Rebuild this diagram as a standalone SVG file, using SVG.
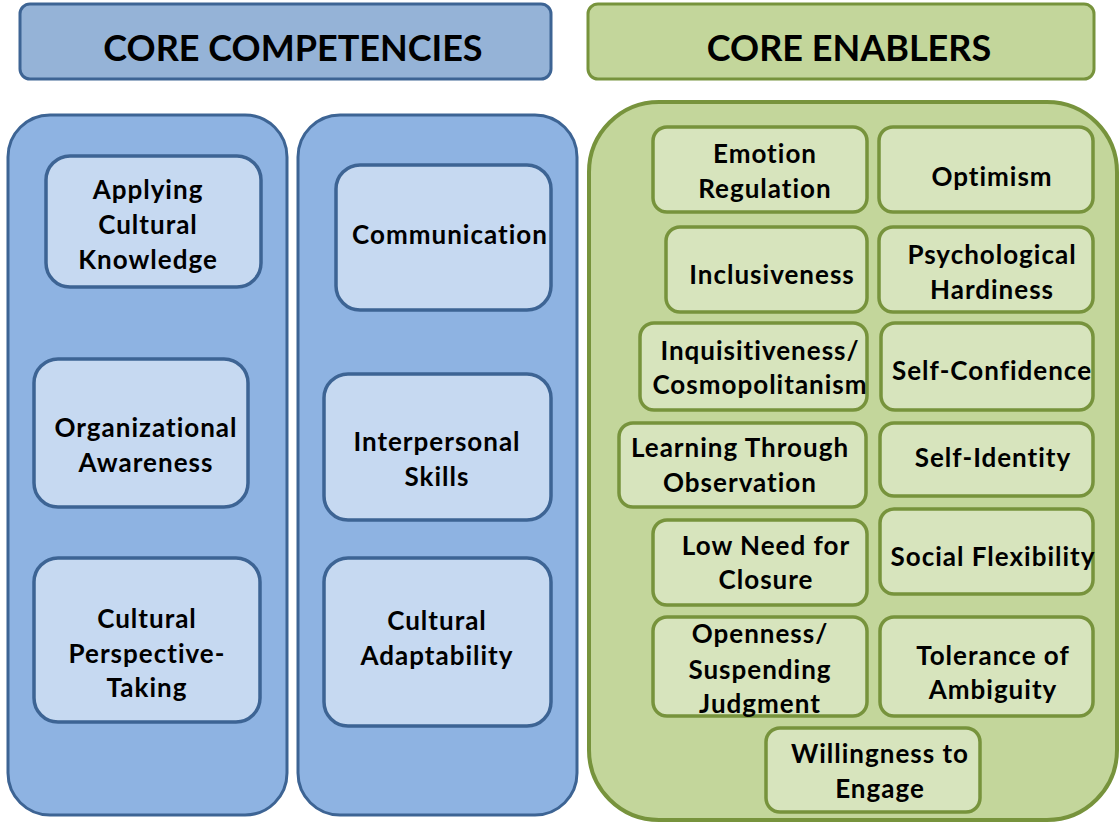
<svg xmlns="http://www.w3.org/2000/svg" width="1120" height="826" viewBox="0 0 1120 826">
<style>
text{font-family:Lato,"Liberation Sans",Arial,sans-serif;font-weight:bold;fill:#000;text-anchor:middle}
.h{font-size:36px}
.t{font-size:26px;letter-spacing:1px}
.bh{fill:#95B3D7;stroke:#3D6494;stroke-width:3}
.bc{fill:#8EB3E2;stroke:#3D6494;stroke-width:3}
.bn{fill:#C6D9F1;stroke:#3D6494;stroke-width:3.5}
.gh{fill:#C3D69B;stroke:#77933C;stroke-width:3}
.gc{fill:#C3D69B;stroke:#77933C;stroke-width:4}
.gn{fill:#D7E4BD;stroke:#77933C;stroke-width:3.5}
</style>
<rect width="1120" height="826" fill="#fff"/>
<g id="header-competencies"><rect class="bh" x="20" y="4" width="531" height="75" rx="10"/><text class="h" x="293" y="61">CORE COMPETENCIES</text></g>
<g id="header-enablers"><rect class="gh" x="588" y="4" width="506" height="75" rx="10"/><text class="h" x="849" y="61">CORE ENABLERS</text></g>
<g id="column-1"><rect class="bc" x="8" y="115" width="279" height="700" rx="42"/></g>
<g id="column-2"><rect class="bc" x="298" y="115" width="279" height="700" rx="42"/></g>
<g id="column-enablers"><rect class="gc" x="589" y="102" width="528" height="718" rx="70"/></g>
<g id="applying-cultural-knowledge"><rect class="bn" x="46" y="156" width="215" height="131" rx="24"/><text class="t" x="148" y="199">Applying</text><text class="t" x="148" y="234">Cultural</text><text class="t" x="148" y="269">Knowledge</text></g>
<g id="organizational-awareness"><rect class="bn" x="34" y="359" width="214" height="148" rx="24"/><text class="t" x="146" y="437">Organizational</text><text class="t" x="146" y="472">Awareness</text></g>
<g id="cultural-perspective-taking"><rect class="bn" x="34" y="558" width="226" height="164" rx="24"/><text class="t" x="147" y="628">Cultural</text><text class="t" x="147" y="663">Perspective-</text><text class="t" x="147" y="697">Taking</text></g>
<g id="communication"><rect class="bn" x="336" y="165" width="215" height="145" rx="24"/><text class="t" x="450" y="244">Communication</text></g>
<g id="interpersonal-skills"><rect class="bn" x="324" y="374" width="227" height="146" rx="24"/><text class="t" x="437" y="451">Interpersonal</text><text class="t" x="437" y="486">Skills</text></g>
<g id="cultural-adaptability"><rect class="bn" x="324" y="558" width="227" height="168" rx="24"/><text class="t" x="437" y="630">Cultural</text><text class="t" x="437" y="665">Adaptability</text></g>
<g id="emotion-regulation"><rect class="gn" x="653" y="127" width="214" height="85" rx="14"/><text class="t" x="765" y="163">Emotion</text><text class="t" x="765" y="198">Regulation</text></g>
<g id="optimism"><rect class="gn" x="879" y="127" width="214" height="85" rx="14"/><text class="t" x="992" y="186">Optimism</text></g>
<g id="inclusiveness"><rect class="gn" x="666" y="227" width="201" height="85" rx="14"/><text class="t" x="772" y="284">Inclusiveness</text></g>
<g id="psychological-hardiness"><rect class="gn" x="879" y="227" width="214" height="85" rx="14"/><text class="t" x="992" y="264">Psychological</text><text class="t" x="992" y="299">Hardiness</text></g>
<g id="inquisitiveness"><rect class="gn" x="640" y="323" width="227" height="87" rx="14"/><text class="t" x="760" y="360">Inquisitiveness/</text><text class="t" x="760" y="394">Cosmopolitanism</text></g>
<g id="self-confidence"><rect class="gn" x="881" y="323" width="212" height="87" rx="14"/><text class="t" x="992" y="380">Self-Confidence</text></g>
<g id="learning-through-observation"><rect class="gn" x="619" y="423" width="247" height="84" rx="14"/><text class="t" x="740" y="457">Learning Through</text><text class="t" x="740" y="492">Observation</text></g>
<g id="self-identity"><rect class="gn" x="880" y="423" width="213" height="73" rx="14"/><text class="t" x="993" y="467">Self-Identity</text></g>
<g id="low-need-for-closure"><rect class="gn" x="653" y="520" width="214" height="85" rx="14"/><text class="t" x="766" y="555">Low Need for</text><text class="t" x="766" y="589">Closure</text></g>
<g id="social-flexibility"><rect class="gn" x="880" y="509" width="213" height="85" rx="14"/><text class="t" x="993" y="566">Social Flexibility</text></g>
<g id="openness"><rect class="gn" x="653" y="617" width="214" height="99" rx="14"/><text class="t" x="760" y="643">Openness/</text><text class="t" x="760" y="679">Suspending</text><text class="t" x="760" y="713">Judgment</text></g>
<g id="tolerance-of-ambiguity"><rect class="gn" x="880" y="617" width="213" height="99" rx="14"/><text class="t" x="993" y="665">Tolerance of</text><text class="t" x="993" y="699">Ambiguity</text></g>
<g id="willingness-to-engage"><rect class="gn" x="766" y="728" width="214" height="84" rx="14"/><text class="t" x="880" y="763">Willingness to</text><text class="t" x="880" y="798">Engage</text></g>
<g id="connectors"/>
</svg>
